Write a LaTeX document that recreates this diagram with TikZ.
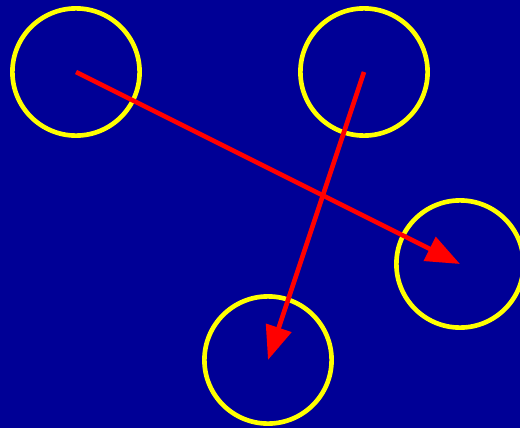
\documentclass[tikz,border=0pt]{standalone}
\usepackage{xcolor}
\usepackage{tikz}
\usetikzlibrary{arrows.meta}

\definecolor{bgblue}{RGB}{0,0,150}
\definecolor{ringyellow}{RGB}{255,255,0}
\definecolor{arrred}{RGB}{255,0,0}

\begin{document}
\begin{tikzpicture}[
    ring/.style={circle, draw=ringyellow, line width=3.3pt,
                 minimum size=3.18cm, inner sep=0pt},
    arr/.style={-{Triangle[length=0.85cm, width=0.65cm]}, line width=3.3pt, draw=arrred}
]

% --- background ---
\fill[bgblue] (0,0) rectangle (13,10.7);
\useasboundingbox (0,0) rectangle (13,10.7);

% --- rings ---
\node[ring] (tl) at ( 1.9, 8.9) {};
\node[ring] (tr) at ( 9.1, 8.9) {};
\node[ring] (rt) at (11.5, 4.1) {};
\node[ring] (bt) at ( 6.7, 1.7) {};

% --- arrows ---
\draw[arr] (tl.center) -- (rt.center);
\draw[arr] (tr.center) -- (bt.center);

\end{tikzpicture}
\end{document}
